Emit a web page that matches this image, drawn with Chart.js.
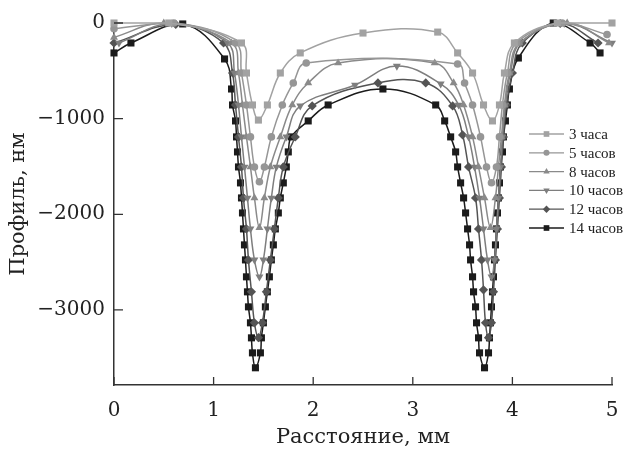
<!DOCTYPE html>
<html>
<head>
<meta charset="utf-8">
<script src="https://cdn.jsdelivr.net/npm/chart.js@4.4.1/dist/chart.umd.min.js"></script>
<style>
  html, body { margin: 0; padding: 0; background: #fff; }
  #wrap { width: 637px; height: 450px; }
</style>
</head>
<body>
<div id="wrap"><canvas id="profileChart" width="637" height="450"></canvas></div>
<script>
// Axis ticks
const xTicks = [0, 1, 2, 3, 4, 5];
const yTicks = [-3000, -2000, -1000, 0];
const seriesNames = ['3 часа', '5 часов', '8 часов', '10 часов', '12 часов', '14 часов'];

// Profile points [distance mm, depth nm]
const h3 = [[0,0],[0.55,0],[1.28,-209],[1.33,-523],[1.39,-857],[1.45,-1015],[1.54,-857],[1.67,-523],
  [1.87,-313],[2.5,-105],[3.25,-95],[3.45,-313],[3.6,-523],[3.71,-857],[3.8,-1024],[3.87,-857],
  [3.92,-523],[4.02,-209],[4.45,0],[5,0]];

const h5 = [[0,-60],[0.6,0],[1.22,-209],[1.28,-523],[1.33,-857],[1.37,-1191],[1.41,-1505],[1.46,-1660],
  [1.51,-1505],[1.58,-1191],[1.69,-857],[1.8,-627],[1.93,-418],[3.45,-428],[3.52,-627],[3.6,-857],
  [3.68,-1191],[3.74,-1505],[3.79,-1670],[3.84,-1505],[3.87,-1191],[3.9,-857],[3.95,-523],[4.04,-209],
  [4.5,0],[4.95,-120]];

const h8 = [[0,-150],[0.5,0],[1.18,-209],[1.25,-523],[1.29,-857],[1.33,-1191],[1.37,-1505],[1.41,-1829],
  [1.46,-2140],[1.51,-1829],[1.57,-1505],[1.67,-1191],[1.79,-857],[1.95,-627],[2.25,-418],[3.22,-418],
  [3.41,-627],[3.51,-857],[3.6,-1191],[3.66,-1505],[3.72,-1829],[3.78,-2140],[3.83,-1829],[3.86,-1505],
  [3.89,-1191],[3.92,-857],[3.97,-523],[4.07,-209],[4.55,0],[4.97,-209]];

const h10 = [[0.05,-209],[0.58,-5],[1.14,-209],[1.21,-523],[1.25,-857],[1.28,-1191],[1.31,-1505],
  [1.34,-1829],[1.37,-2153],[1.41,-2477],[1.46,-2654],[1.5,-2477],[1.54,-2153],[1.58,-1829],[1.63,-1505],
  [1.73,-1191],[1.87,-867],[2.42,-648],[2.84,-450],[3.28,-637],[3.46,-857],[3.56,-1191],[3.62,-1505],
  [3.67,-1829],[3.71,-2153],[3.75,-2477],[3.79,-2654],[3.82,-2477],[3.84,-2153],[3.86,-1829],
  [3.88,-1505],[3.9,-1191],[3.93,-857],[3.98,-523],[4.08,-209],[4.52,-5],[5,-209]];

const h12 = [[0,-209],[0.62,-15],[1.1,-209],[1.19,-523],[1.22,-857],[1.25,-1191],[1.28,-1505],[1.3,-1829],
  [1.33,-2153],[1.35,-2477],[1.38,-2811],[1.41,-3135],[1.45,-3290],[1.49,-3135],[1.53,-2811],[1.57,-2477],
  [1.61,-2153],[1.65,-1829],[1.7,-1505],[1.82,-1191],[1.99,-867],[2.65,-627],[3.13,-627],[3.4,-867],
  [3.5,-1170],[3.56,-1505],[3.63,-1829],[3.66,-2153],[3.69,-2477],[3.71,-2790],[3.73,-3135],[3.76,-3290],
  [3.79,-3135],[3.81,-2811],[3.83,-2477],[3.85,-2153],[3.87,-1829],[3.89,-1505],[3.91,-1191],[3.94,-857],
  [4.0,-523],[4.1,-209],[4.48,-5],[4.86,-209]];

const h14 = [[0,-313],[0.17,-209],[0.69,-10],[1.11,-376],[1.18,-690],[1.19,-857],[1.22,-1024],[1.23,-1191],
  [1.24,-1348],[1.25,-1505],[1.27,-1672],[1.28,-1829],[1.29,-1986],[1.3,-2153],[1.31,-2320],[1.32,-2477],
  [1.33,-2654],[1.34,-2811],[1.35,-2968],[1.37,-3135],[1.38,-3292],[1.39,-3449],[1.42,-3605],[1.47,-3449],
  [1.48,-3292],[1.5,-3135],[1.52,-2968],[1.54,-2811],[1.56,-2654],[1.58,-2477],[1.6,-2320],[1.62,-2153],
  [1.65,-1986],[1.67,-1829],[1.7,-1672],[1.73,-1505],[1.75,-1348],[1.78,-1191],[1.95,-1024],[2.15,-857],
  [2.7,-690],[3.23,-857],[3.32,-1024],[3.38,-1191],[3.43,-1348],[3.45,-1505],[3.48,-1672],[3.51,-1829],
  [3.53,-1986],[3.55,-2153],[3.57,-2320],[3.58,-2477],[3.6,-2654],[3.61,-2811],[3.63,-2968],[3.64,-3135],
  [3.66,-3292],[3.67,-3449],[3.72,-3605],[3.76,-3449],[3.77,-3292],[3.78,-3135],[3.79,-2968],[3.8,-2811],
  [3.81,-2654],[3.82,-2477],[3.83,-2320],[3.84,-2153],[3.85,-1986],[3.86,-1829],[3.87,-1672],[3.88,-1505],
  [3.9,-1348],[3.91,-1191],[3.93,-1024],[3.95,-857],[3.97,-690],[4.06,-366],[4.41,0],[4.78,-209],[4.88,-313]];

const seriesData = [h3, h5, h8, h10, h12, h14];

// Look of each series
const colors = ['#a2a2a2', '#969696', '#8a8a8a', '#7e7e7e', '#545454', '#1b1b1b'];
const markers = [
  { style: 'rect', radius: 5, rotation: 0 },
  { style: 'circle', radius: 3.8, rotation: 0 },
  { style: 'triangle', radius: 4.6, rotation: 0 },
  { style: 'triangle', radius: 4.6, rotation: 180 },
  { style: 'rectRot', radius: 4.6, rotation: 0 },
  { style: 'rect', radius: 5, rotation: 0 }
];

const axisColor = '#333';
const textColor = '#222';
const serif = "'DejaVu Serif', serif";

const datasets = seriesData.map((pts, i) => ({
  label: seriesNames[i],
  data: pts.map(p => ({ x: p[0], y: p[1] })),
  showLine: true,
  tension: 0.4,
  borderColor: colors[i],
  backgroundColor: colors[i],
  borderWidth: 1.5,
  pointStyle: markers[i].style,
  pointRadius: markers[i].radius,
  pointRotation: markers[i].rotation,
  pointBorderWidth: 0,
  pointBackgroundColor: colors[i],
  clip: false
}));

// tick marks pointing into the plot
const innerTicks = {
  id: 'innerTicks',
  afterDraw(chart) {
    const { ctx, chartArea: a, scales: { x, y } } = chart;
    ctx.save();
    ctx.strokeStyle = axisColor;
    ctx.lineWidth = 1.3;
    ctx.beginPath();
    xTicks.forEach(v => {
      const px = x.getPixelForValue(v);
      ctx.moveTo(px, a.bottom);
      ctx.lineTo(px, a.bottom - 8);
    });
    yTicks.forEach(v => {
      const py = y.getPixelForValue(v);
      ctx.moveTo(a.left, py);
      ctx.lineTo(a.left + 9, py);
    });
    ctx.stroke();
    ctx.restore();
  }
};

// legend: line sample with marker in the middle
const lineLegend = {
  id: 'lineLegend',
  afterDraw(chart) {
    const ctx = chart.ctx;
    ctx.save();
    ctx.font = "15px 'Liberation Serif', serif";
    ctx.textBaseline = 'middle';
    chart.data.datasets.forEach((ds, i) => {
      const y = 134 + i * 18.8;
      ctx.strokeStyle = ds.borderColor;
      ctx.fillStyle = ds.borderColor;
      ctx.lineWidth = 1.3;
      ctx.beginPath();
      ctx.moveTo(529, y);
      ctx.lineTo(564, y);
      ctx.stroke();
      Chart.helpers.drawPoint(ctx, {
        pointStyle: ds.pointStyle,
        radius: ds.pointRadius * 0.8,
        rotation: ds.pointRotation,
        borderWidth: 0
      }, 546.5, y);
      ctx.fillStyle = textColor;
      ctx.fillText(ds.label, 569, y + 1);
    });
    ctx.restore();
  }
};

const fmt = v => (v < 0 ? '\u2212' + Math.abs(v) : String(v));

new Chart(document.getElementById('profileChart'), {
  type: 'scatter',
  data: { datasets },
  options: {
    responsive: false,
    animation: false,
    layout: { padding: { top: 23, right: 25, left: 0, bottom: 0 } },
    plugins: { legend: { display: false }, tooltip: { enabled: false } },
    scales: {
      x: {
        type: 'linear',
        min: 0,
        max: 5,
        afterBuildTicks: s => { s.ticks = xTicks.map(v => ({ value: v })); },
        afterFit: s => { s.height = 65; },
        grid: { drawOnChartArea: false, drawTicks: false },
        border: { display: true, color: axisColor, width: 1.5 },
        ticks: { color: textColor, font: { family: serif, size: 20 }, padding: 14, callback: fmt },
        title: { display: true, text: 'Расстояние, мм', color: textColor,
                 font: { family: serif, size: 21 }, padding: { top: 2, bottom: 0 } }
      },
      y: {
        type: 'linear',
        min: -3785,
        max: 0,
        afterBuildTicks: s => { s.ticks = yTicks.map(v => ({ value: v })); },
        afterFit: s => { s.width = 114; },
        grid: { drawOnChartArea: false, drawTicks: false },
        border: { display: true, color: axisColor, width: 1.5 },
        ticks: { color: textColor, font: { family: serif, size: 20 }, padding: 9, callback: fmt },
        title: { display: true, text: 'Профиль, нм', color: textColor,
                 font: { family: serif, size: 21 }, padding: { top: 6, bottom: 0 } }
      }
    }
  },
  plugins: [innerTicks, lineLegend]
});
</script>
</body>
</html>
